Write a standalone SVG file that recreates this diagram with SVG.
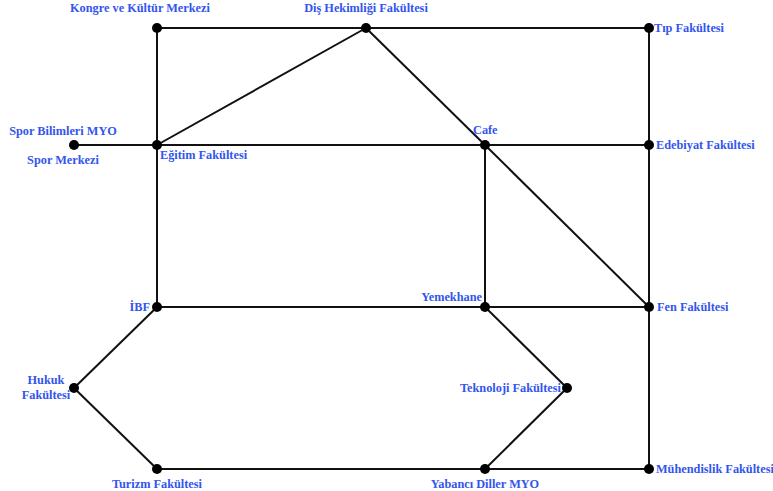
<svg xmlns="http://www.w3.org/2000/svg" width="773" height="491" viewBox="0 0 773 491">
<style>
.e{stroke:#111;stroke-width:2;fill:none}
.n{fill:#000}
.t{font-family:"Liberation Serif","Times New Roman",serif;font-weight:bold;font-size:12.3px;fill:#3355ee}
.m{text-anchor:middle}
.r{text-anchor:end}
</style>
<rect width="773" height="491" fill="#fff"/>
<g id="edges">
<line class="e" x1="157" y1="28" x2="366" y2="28"/>
<line class="e" x1="366" y1="28" x2="649" y2="28"/>
<line class="e" x1="157" y1="28" x2="157" y2="145"/>
<line class="e" x1="366" y1="28" x2="157" y2="145"/>
<line class="e" x1="366" y1="28" x2="485" y2="145"/>
<line class="e" x1="485" y1="145" x2="649" y2="307"/>
<line class="e" x1="649" y1="28" x2="649" y2="145"/>
<line class="e" x1="74" y1="145" x2="157" y2="145"/>
<line class="e" x1="157" y1="145" x2="485" y2="145"/>
<line class="e" x1="485" y1="145" x2="649" y2="145"/>
<line class="e" x1="649" y1="145" x2="649" y2="307"/>
<line class="e" x1="157" y1="145" x2="157" y2="307"/>
<line class="e" x1="485" y1="145" x2="485" y2="307"/>
<line class="e" x1="157" y1="307" x2="485" y2="307"/>
<line class="e" x1="485" y1="307" x2="649" y2="307"/>
<line class="e" x1="485" y1="307" x2="567" y2="388"/>
<line class="e" x1="567" y1="388" x2="485" y2="469"/>
<line class="e" x1="157" y1="307" x2="74" y2="388"/>
<line class="e" x1="74" y1="388" x2="157" y2="469"/>
<line class="e" x1="157" y1="469" x2="485" y2="469"/>
<line class="e" x1="485" y1="469" x2="649" y2="469"/>
<line class="e" x1="649" y1="307" x2="649" y2="469"/>
</g>
<g id="kongre"><circle class="n" cx="157" cy="28" r="5"/><text class="t m" x="140" y="12">Kongre ve Kültür Merkezi</text></g>
<g id="dis"><circle class="n" cx="366" cy="28" r="5"/><text class="t m" x="366" y="12">Diş Hekimliği Fakültesi</text></g>
<g id="tip"><circle class="n" cx="649" cy="28" r="5"/><text class="t" x="654" y="32">Tıp Fakültesi</text></g>
<g id="spor"><circle class="n" cx="74" cy="145" r="5"/><text class="t m" x="63" y="135">Spor Bilimleri MYO</text><text class="t m" x="63" y="164">Spor Merkezi</text></g>
<g id="egitim"><circle class="n" cx="157" cy="145" r="5"/><text class="t" x="160" y="159">Eğitim Fakültesi</text></g>
<g id="cafe"><circle class="n" cx="485" cy="145" r="5"/><text class="t" x="473" y="134">Cafe</text></g>
<g id="edebiyat"><circle class="n" cx="649" cy="145" r="5"/><text class="t" x="656" y="149">Edebiyat Fakültesi</text></g>
<g id="ibf"><circle class="n" cx="157" cy="307" r="5"/><text class="t r" x="150" y="311">İBF</text></g>
<g id="yemekhane"><circle class="n" cx="485" cy="307" r="5"/><text class="t r" x="482" y="301">Yemekhane</text></g>
<g id="fen"><circle class="n" cx="649" cy="307" r="5"/><text class="t" x="657" y="311">Fen Fakültesi</text></g>
<g id="hukuk"><circle class="n" cx="74" cy="388" r="5"/><text class="t m" x="46" y="384">Hukuk</text><text class="t m" x="46" y="399">Fakültesi</text></g>
<g id="teknoloji"><circle class="n" cx="567" cy="388" r="5"/><text class="t r" x="561" y="392">Teknoloji Fakültesi</text></g>
<g id="turizm"><circle class="n" cx="157" cy="469" r="5"/><text class="t m" x="157" y="488">Turizm Fakültesi</text></g>
<g id="yabanci"><circle class="n" cx="485" cy="469" r="5"/><text class="t m" x="485" y="488">Yabancı Diller MYO</text></g>
<g id="muhendislik"><circle class="n" cx="649" cy="469" r="5"/><text class="t" x="656" y="473">Mühendislik Fakültesi</text></g>
</svg>
